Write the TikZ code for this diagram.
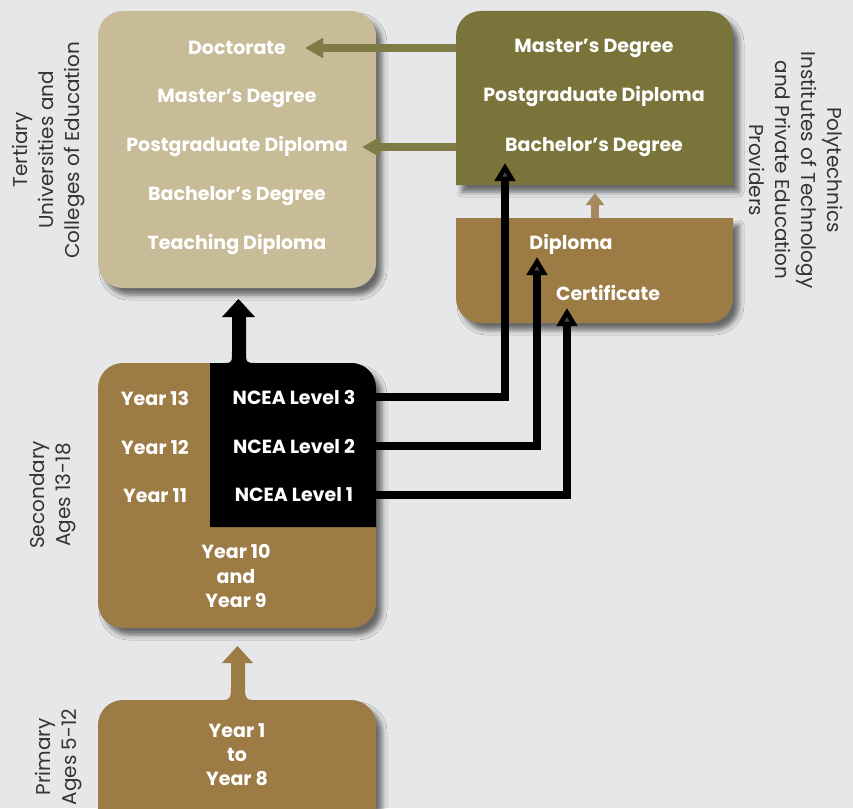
\documentclass[tikz,border=0pt]{standalone}
\usepackage{fontspec}
\setmainfont{Poppins}
\usetikzlibrary{arrows.meta,shadows.blur}

\definecolor{bgGrey}{HTML}{E6E7E9}
\definecolor{tertTan}{HTML}{C8BB97}
\definecolor{polyOlive}{HTML}{7A733A}
\definecolor{schoolBrown}{HTML}{9C7B45}
\definecolor{oliveArrow}{HTML}{7F7B47}
\definecolor{paleArrow}{HTML}{A48A5E}

\tikzset{
	soft/.style={blur shadow={shadow xshift=6pt, shadow yshift=-7pt,
		shadow blur radius=5pt, shadow opacity=55}},
	box/.style={soft, rounded corners=25pt, inner sep=0, minimum width=278pt},
	entry/.style={text=white, font=\bfseries\fontsize{19}{22}\selectfont, align=center},
	side/.style={font=\fontsize{20}{26}\selectfont, align=center, text=black!80},
	link/.style={line width=8pt, -{Triangle[width=20pt,length=18pt]}},
	backlink/.style={line width=8pt, oliveArrow, -{Triangle[width=19pt,length=18pt]}},
}

\begin{document}
\begin{tikzpicture}[x=1pt, y=-1pt]
	\fill[bgGrey] (0,0) rectangle (853,808);
	\useasboundingbox (0,0) rectangle (853,808);

	% tertiary
	\node[box, fill=tertTan, minimum height=277pt] (tert) at (237,149.5) {};
	\node[entry] (doct) at (237,48)  {Doctorate};
	\node[entry] (tMast) at (237,98)  {Master’s Degree};
	\node[entry] (tPost) at (237,147) {Postgraduate Diploma};
	\node[entry] (tBach) at (237,196) {Bachelor’s Degree};
	\node[entry] (tTeach) at (237,245) {Teaching Diploma};

	% polytechnics
	\fill[soft, polyOlive] (456,185) -- (456,36) .. controls (456,22) and (467,11) .. (481,11)
		-- (708,11) .. controls (722,11) and (733,22) .. (733,36) -- (733,185) -- cycle;
	\coordinate (polyTopW) at (456,0);
	\coordinate (polyTopS) at (595,185);
	\node[entry] (pMast) at (594,48)  {Master’s Degree};
	\node[entry] (pPost) at (594,97)  {Postgraduate Diploma};
	\node[entry] (pBach) at (594,147) {Bachelor’s Degree};

	\fill[soft, schoolBrown] (456,218) -- (733,218) -- (733,298) .. controls (733,312) and (722,323) .. (708,323)
		-- (481,323) .. controls (467,323) and (456,312) .. (456,298) -- cycle;
	\coordinate (polyLowN) at (595,218);
	\node[entry] (dipl) at (571,244) {Diploma};
	\node[entry] (cert) at (608,293) {Certificate};

	\draw[line width=8pt, paleArrow, -{Triangle[width=18pt,length=12pt]}]
		(polyLowN) -- ([yshift=-8pt]polyTopS);

	% secondary
	\node[box, fill=schoolBrown, minimum height=265pt] (sec) at (237,495.5) {};
	\fill (210,527) -- (210,363) -- (224,363) .. controls (232,363) .. (232,350) -- (232,317)
		-- (222,317) -- (238.5,299) -- (255,317) -- (246,317) -- (246,350)
		.. controls (246,363) .. (256,363) -- (351,363) .. controls (365,363) and (376,374) .. (376,388)
		-- (376,527) -- cycle;
	\node[entry] (y13) at (155,398) {Year 13};
	\node[entry] (y12) at (155,447) {Year 12};
	\node[entry] (y11) at (155,496) {Year 11};
	\node[entry] (ncea3) at (294,397) {NCEA Level 3};
	\node[entry] (ncea2) at (294,446) {NCEA Level 2};
	\node[entry] (ncea1) at (294,495) {NCEA Level 1};
	\node[entry, font=\bfseries\fontsize{19}{24.5}\selectfont] (y10) at (236,576) {Year 10\\and\\Year 9};

	% primary
	\node[box, fill=schoolBrown, minimum height=150pt] (prim) at (237,775) {};
	\fill[schoolBrown] (216,700.5) .. controls (231,700) .. (231,684) -- (231,663) -- (222,663)
		-- (237.5,646) -- (253,663) -- (245,663) -- (245,684) .. controls (245,700) .. (260,700.5) -- cycle;
	\node[entry, font=\bfseries\fontsize{19}{24}\selectfont] (y1) at (237,755) {Year 1\\to\\Year 8};

	% pathways
	\coordinate (tipBach) at (505,163);
	\coordinate (tipDipl) at (537,257);
	\coordinate (tipCert) at (567,308);
	\draw[link] (ncea3 -| sec.east) -| (tipBach);
	\draw[link] (ncea2 -| sec.east) -| (tipDipl);
	\draw[link] (ncea1 -| sec.east) -| (tipCert);

	\draw[backlink] (polyTopW |- pMast) -- (305,48);
	\draw[backlink] (polyTopW |- pBach) -- (362,147);

	% side labels
	\node[side, rotate=90] (tertLab) at (49,150) {Tertiary\\Universities and\\Colleges of Education};
	\node[side, rotate=-90] (polyLab) at (796,170) {Polytechnics\\Institutes of Technology\\and Private Education\\Providers};
	\node[side, rotate=90] (secLab) at (53,495) {Secondary\\Ages 13-18};
	\node[side, rotate=90] (primLab) at (59,757) {Primary\\Ages 5-12};
\end{tikzpicture}
\end{document}
